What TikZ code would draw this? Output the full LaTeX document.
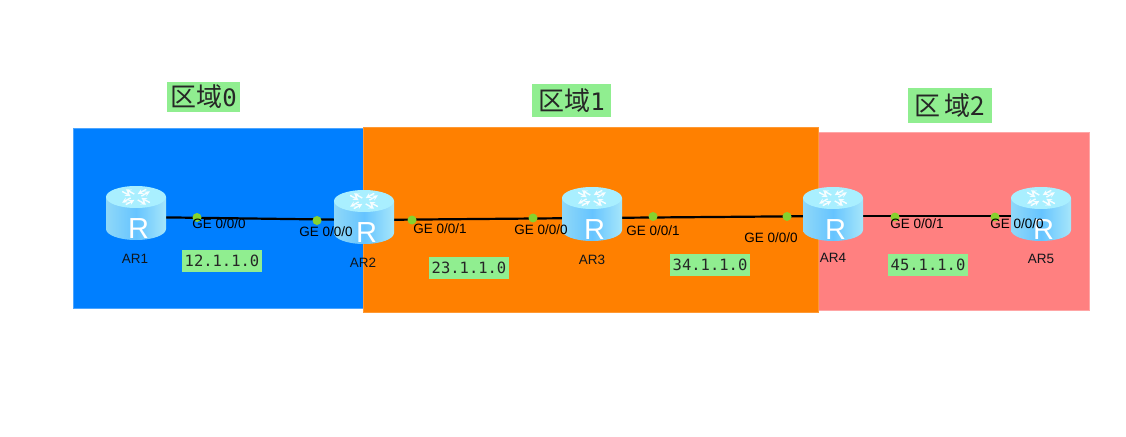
\documentclass[tikz,border=0pt]{standalone}
\usepackage{fontspec}
\setmainfont{Liberation Sans}
\newfontfamily\cjkf{Noto Sans CJK SC}
\newfontfamily\monof{DejaVu Sans Mono}
\definecolor{zblue}{HTML}{007FFF}
\definecolor{zorange}{HTML}{FF8000}
\definecolor{zpink}{HTML}{FF8080}
\definecolor{lgreen}{HTML}{90EE90}
\definecolor{dotg}{HTML}{86D22E}
\definecolor{inkt}{HTML}{10151A}
\definecolor{bodyl}{HTML}{8FD8F8}
\definecolor{bodym}{HTML}{66C4FF}
\definecolor{bodyr}{HTML}{A6E6FA}
\definecolor{topc}{HTML}{A9EFFF}
\tikzset{
 x=1pt,y=-1pt,
 routerbox/.style={inner sep=0,minimum width=60pt,minimum height=54pt,outer sep=0},
 routerlabel/.style={font=\fontsize{13.5}{15}\selectfont,text=inkt,inner sep=0},
 portlabel/.style={font=\fontsize{13.5}{15}\selectfont,text=black,inner sep=0},
 portdot/.style={circle,fill=dotg,inner sep=0,minimum size=9pt},
 link/.style={draw=black,line width=2.2pt},
 netlabel/.style={fill=lgreen,font=\monof\fontsize{15.5}{17}\selectfont,text=black!85,inner sep=0,minimum height=22pt,minimum width=80pt},
 zonelabel/.style={fill=lgreen,text=black!85,inner sep=0,font=\fontsize{26}{30}\selectfont},
}
% router graphic, drawn over the named box
\newcommand{\routerart}[1]{%
 \begin{scope}[shift={(#1.center)}]
  \path[left color=bodyl,right color=bodyr,middle color=bodym]
    (-30,-16) -- (-30,16) arc[start angle=180,end angle=0,x radius=30,y radius=11] -- (30,-16) -- cycle;
  \fill[topc] (0,-16) ellipse[x radius=30,y radius=11];
  \begin{scope}[shift={(0,-16)},yscale=.55]
   \foreach \a in {45,135,225,315}{
    \draw[white,line width=1.4pt,opacity=.9,-stealth,rotate=\a] (5,2.6) -- (17,2.6);
    \draw[white,line width=1.4pt,opacity=.9,stealth-,rotate=\a] (5,-2.6) -- (17,-2.6);
   }
  \end{scope}
  \node[text=white,inner sep=0,anchor=base,font=\fontsize{29}{29}\selectfont] at (2.5,25) {R};
 \end{scope}}
\begin{document}
\begin{tikzpicture}
\useasboundingbox (0,0) rectangle (1126,436);
\fill[white] (0,0) rectangle (1126,436);
% zones
\path[fill=zblue,draw=zblue!70!white,line width=.8pt] (73,128) rectangle (363,308);
\path[fill=zpink,draw=zpink!70!white,line width=.8pt] (818,132) rectangle (1089,310);
\path[fill=zorange,draw=zorange!80!white,line width=.8pt] (363,127) rectangle (818,312);
% zone titles
\node[zonelabel,minimum width=73pt,minimum height=30pt] (z0) at (203.5,97) {\cjkf 区域\monof\fontsize{24}{30}\selectfont 0};
\node[zonelabel,minimum width=79pt,minimum height=33pt] (z1) at (571.5,100.5) {\cjkf 区域\monof\fontsize{24}{30}\selectfont 1};
\node[zonelabel,minimum width=84pt,minimum height=35pt] (z2) at (950,105.5) {\cjkf 区\,域\fontsize{26}{30}\selectfont 2};
% router anchors
\node[routerbox] (ar1) at (136,213) {};
\node[routerbox] (ar2) at (364,217) {};
\node[routerbox] (ar3) at (592,214) {};
\node[routerbox] (ar4) at (833,214) {};
\node[routerbox] (ar5) at (1041,214) {};
% links
\draw[link] ([yshift=-4pt]ar1.center) -- ([yshift=-3pt]ar2.center);
\draw[link] ([yshift=-3pt]ar2.center) -- ([yshift=-4pt]ar3.center);
\draw[link] ([yshift=-4pt]ar3.center) -- ([yshift=-2pt]ar4.center);
\draw[link] ([yshift=-2pt]ar4.center) -- ([yshift=-2pt]ar5.center);
% routers
\routerart{ar1}\routerart{ar2}\routerart{ar3}\routerart{ar4}\routerart{ar5}
% router names
\node[routerlabel] (n1) at (135,259) {AR1};
\node[routerlabel] (n2) at (363,263) {AR2};
\node[routerlabel] (n3) at (592,260) {AR3};
\node[routerlabel] (n4) at (833,258) {AR4};
\node[routerlabel] (n5) at (1041,259) {AR5};
% interface dots
\node[portdot] (d1) at (197,217.5) {};
\node[portdot] (d2) at (317,220.5) {};
\node[portdot] (d3) at (412,220) {};
\node[portdot] (d4) at (533,218) {};
\node[portdot] (d5) at (653,216.5) {};
\node[portdot] (d6) at (787,216.5) {};
\node[portdot] (d7) at (895,217) {};
\node[portdot] (d8) at (995,217) {};
% interface labels
\node[portlabel] (p1) at (219,224) {GE 0/0/0};
\node[portlabel] (p2) at (326,232) {GE 0/0/0};
\node[portlabel] (p3) at (440,229) {GE 0/0/1};
\node[portlabel] (p4) at (541,230) {GE 0/0/0};
\node[portlabel] (p5) at (653,231) {GE 0/0/1};
\node[portlabel] (p6) at (771,238) {GE 0/0/0};
\node[portlabel] (p7) at (917,224) {GE 0/0/1};
\node[portlabel] (p8) at (1017,224) {GE 0/0/0};
% network labels
\node[netlabel] (a1) at (222,261) {12.1.1.0};
\node[netlabel] (a2) at (469,268) {23.1.1.0};
\node[netlabel] (a3) at (710,265) {34.1.1.0};
\node[netlabel] (a4) at (928,265) {45.1.1.0};
\end{tikzpicture}
\end{document}
